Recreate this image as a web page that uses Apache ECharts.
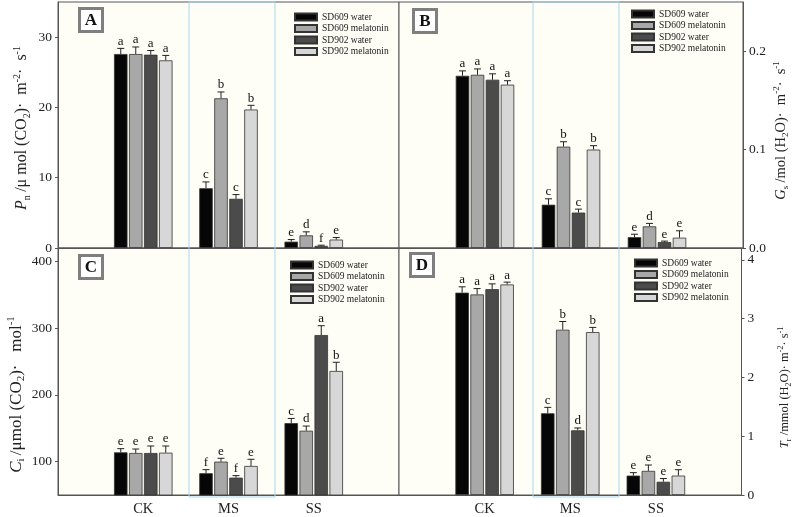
<!DOCTYPE html>
<html><head><meta charset="utf-8">
<script src="https://cdn.jsdelivr.net/npm/echarts@6/dist/echarts.min.js"></script>
<style>html,body{margin:0;padding:0;background:#fff}#c{width:794px;height:517px}</style>
</head><body><div id="c"></div>
<script>
// ---------- data ----------
const categories = ['', 'CK', 'MS', 'SS', ''];
const groups = ['CK', 'MS', 'SS'];
const seriesNames = ['SD609 water', 'SD609 melatonin', 'SD902 water', 'SD902 melatonin'];

// Pn (A)
const pnMean = [[27.6, 8.5, 0.9], [27.6, 21.3, 1.8], [27.5, 7.0, 0.3], [26.7, 19.7, 1.2]];
const pnErr = [[0.8, 0.9, 0.3], [1.0, 0.9, 0.5], [0.6, 0.6, 0.1], [0.7, 0.6, 0.3]];
const pnLetters = [['a', 'c', 'e'], ['a', 'b', 'd'], ['a', 'c', 'f'], ['a', 'b', 'e']];
const pnTicks = [0, 10, 20, 30];

// Gs (B)
const gsMean = [[0.175, 0.044, 0.011], [0.176, 0.103, 0.022], [0.171, 0.036, 0.006], [0.166, 0.100, 0.0105]];
const gsErr = [[0.005, 0.006, 0.003], [0.006, 0.005, 0.003], [0.006, 0.0035, 0.001], [0.004, 0.004, 0.007]];
const gsLetters = [['a', 'c', 'e'], ['a', 'b', 'd'], ['a', 'c', 'e'], ['a', 'b', 'e']];
const gsTicks = [0, 0.1, 0.2];

// Ci (C)
const ciMean = [[113.9, 82.6, 157.7], [112.9, 100, 146.3], [112.9, 76, 289.6], [113.4, 93.5, 235.8]];
const ciErr = [[5.5, 5.4, 7], [6, 5, 7], [10.5, 3, 14], [10, 10, 13]];
const ciLetters = [['e', 'f', 'c'], ['e', 'e', 'd'], ['e', 'f', 'a'], ['e', 'e', 'b']];
const ciTicks = [100, 200, 300, 400];

// Tr (D)
const trMean = [[3.44, 1.39, 0.33], [3.41, 2.81, 0.41], [3.50, 1.10, 0.225], [3.58, 2.77, 0.33]];
const trErr = [[0.10, 0.10, 0.05], [0.10, 0.14, 0.10], [0.09, 0.04, 0.055], [0.04, 0.08, 0.10]];
const trLetters = [['a', 'c', 'e'], ['a', 'b', 'e'], ['a', 'd', 'e'], ['a', 'b', 'e']];
const trTicks = [0, 1, 2, 3, 4];

// ---------- styles ----------
const SERIF = "'Liberation Serif','DejaVu Serif',serif";
const barColors = ['#060606', '#a8a8a8', '#4b4b4b', '#d7d7d7'];
const BAR_W = 13.5, GAP_PX = 1.5, CAP = 7;

const panels = [
  { key: 'A', mean: pnMean, err: pnErr, letters: pnLetters, ticks: pnTicks, min: 0, max: 35, pos: 'left',
    grid: { left: 58, top: 2, width: 341, height: 246 }, bottom: false,
    name: '{i|P}{sub|n} {n|/\u03bc mol (CO}{sub|2}{n|)\u00b7  m}{sup|-2}{n|\u00b7  s}{sup|-1}', nameSize: 16, nameGap: 26, namePad: [0, 6, 0, 0],
    legend: { left: 294, top: 12 }, box: [79.5, 8.5], fmt: v => String(v) },
  { key: 'B', mean: gsMean, err: gsErr, letters: gsLetters, ticks: gsTicks, min: 0, max: 0.25, pos: 'right',
    grid: { left: 399, top: 2, width: 344, height: 246 }, bottom: false,
    name: '{i|G}{sub|s} {n|/mol (H}{sub|2}{n|O)\u00b7  m}{sup|-2}{n|\u00b7  s}{sup|-1}', nameSize: 14.5, nameGap: 29, namePad: [0, 11, 0, 0],
    legend: { left: 631, top: 9 }, box: [413.5, 9.5], fmt: v => v.toFixed(1) },
  { key: 'C', mean: ciMean, err: ciErr, letters: ciLetters, ticks: ciTicks, min: 50, max: 420, pos: 'left',
    grid: { left: 58, top: 248, width: 341, height: 249 }, bottom: true,
    name: '{i|C}{sub|i} {n|/\u03bcmol (CO}{sub|2}{n|)\u00b7   mol}{sup|-1}', nameSize: 17, nameGap: 31, namePad: [0, 46, 0, 0],
    legend: { left: 290, top: 260 }, box: [79.5, 255.5], fmt: v => String(v) },
  { key: 'D', mean: trMean, err: trErr, letters: trLetters, ticks: trTicks, min: 0, max: 4.2, pos: 'right',
    grid: { left: 399, top: 248, width: 344, height: 249 }, bottom: true,
    name: '{i|T}{sub|r} {n|/mmol (H}{sub|2}{n|O)\u00b7 m}{sup|-2}{n|\u00b7 s}{sup|-1}', nameSize: 12.5, nameGap: 35, namePad: [0, 32, 0, 0],
    legend: { left: 634, top: 258 }, box: [410.5, 253.5], fmt: v => String(v) }
];

function makeRich(sz) {
  const small = Math.round(sz * 0.62);
  return {
    i: { fontFamily: SERIF, fontSize: sz, fontStyle: 'italic', color: '#222', lineHeight: sz + 4 },
    n: { fontFamily: SERIF, fontSize: sz, color: '#222', lineHeight: sz + 4 },
    sub: { fontFamily: SERIF, fontSize: small, color: '#222', verticalAlign: 'bottom', lineHeight: small + 1 },
    sup: { fontFamily: SERIF, fontSize: small, color: '#222', verticalAlign: 'top', lineHeight: small + 1 }
  };
}

const grids = [], xAxes = [], yAxes = [], series = [], legends = [], graphics = [];

panels.forEach((p, pi) => {
  grids.push(Object.assign({ show: true, borderColor: '#555', borderWidth: 1, backgroundColor: '#fefef6' }, p.grid));
  xAxes.push({
    type: 'category', gridIndex: pi, data: categories, boundaryGap: false,
    axisLine: { show: true, lineStyle: { color: '#555' } }, axisTick: { show: false },
    axisLabel: { show: p.bottom, interval: 0, margin: 7, fontFamily: SERIF, fontSize: 14.5, color: '#222' },
    splitLine: { show: false }
  });
  yAxes.push({
    type: 'value', gridIndex: pi, min: p.min, max: p.max, position: p.pos,
    axisLine: { show: true, lineStyle: { color: '#555' } },
    axisTick: { show: true, length: 3, customValues: p.ticks, lineStyle: { color: '#555' } },
    axisLabel: { customValues: p.ticks, formatter: p.fmt, margin: 6, fontFamily: SERIF, fontSize: 13.5, color: '#222' },
    splitLine: { show: false },
    name: p.name, nameLocation: 'middle', nameRotate: 90, nameGap: p.nameGap,
    nameTextStyle: { rich: makeRich(p.nameSize), padding: p.namePad }
  });
  seriesNames.forEach((sn, s) => {
    series.push({
      type: 'bar', name: sn, xAxisIndex: pi, yAxisIndex: pi,
      barWidth: BAR_W, barGap: (GAP_PX / BAR_W * 100).toFixed(1) + '%',
      itemStyle: { color: barColors[s], borderColor: '#333', borderWidth: 0.8 },
      data: groups.map((g, ci) => [g, p.mean[s][ci]]),
      z: 2
    });
  });
  const errData = [];
  seriesNames.forEach((sn, s) => groups.forEach((g, ci) => {
    errData.push([g, p.mean[s][ci] + p.err[s][ci], p.mean[s][ci], s, ci]);
  }));
  const letters = p.letters;
  series.push({
    type: 'custom', name: 'err' + p.key, xAxisIndex: pi, yAxisIndex: pi, z: 3,
    encode: { x: 0, y: 1 }, data: errData,
    renderItem: function (params, api) {
      const cat = api.value(0), s = api.value(3), ci = api.value(4);
      const top = api.coord([cat, api.value(1)]);
      const base = api.coord([cat, api.value(2)]);
      const x = top[0] + (s - 1.5) * (BAR_W + GAP_PX);
      return {
        type: 'group', children: [
          { type: 'line', shape: { x1: x, y1: base[1], x2: x, y2: top[1] }, style: { stroke: '#222', lineWidth: 1 } },
          { type: 'line', shape: { x1: x - CAP / 2, y1: top[1], x2: x + CAP / 2, y2: top[1] }, style: { stroke: '#222', lineWidth: 1 } },
          { type: 'text', x: x, y: top[1] - 0.5, style: { text: letters[s][ci], fill: '#111', font: '13px ' + SERIF, textAlign: 'center', textVerticalAlign: 'bottom' } }
        ]
      };
    }
  });
  legends.push({
    data: seriesNames, orient: 'vertical', left: p.legend.left, top: p.legend.top,
    itemWidth: 22, itemHeight: 7, itemGap: 1.5, padding: 0, icon: 'rect',
    textStyle: { fontFamily: SERIF, fontSize: 9.5, color: '#222', lineHeight: 8 }
  });
  graphics.push({
    type: 'group', children: [
      { type: 'rect', shape: { x: p.box[0], y: p.box[1], width: 23, height: 23 }, style: { fill: '#fff', stroke: '#7f7f7f', lineWidth: 3 }, z: 5 },
      { type: 'text', x: p.box[0] + 11.5, y: p.box[1] + 12, style: { text: p.key, font: 'bold 17px ' + SERIF, fill: '#111', textAlign: 'center', textVerticalAlign: 'middle' }, z: 6 }
    ]
  });
});

// light blue frames around the MS group
graphics.push({ type: 'rect', shape: { x: 189, y: 2, width: 86, height: 495 }, style: { fill: 'none', stroke: '#a6d9ee', lineWidth: 1 }, z: 1 });
graphics.push({ type: 'rect', shape: { x: 533, y: 2, width: 86, height: 495 }, style: { fill: 'none', stroke: '#a6d9ee', lineWidth: 1 }, z: 1 });

const chart = echarts.init(document.getElementById('c'), null, { renderer: 'canvas' });
chart.setOption({
  animation: false,
  backgroundColor: '#ffffff',
  grid: grids, xAxis: xAxes, yAxis: yAxes, series: series, legend: legends,
  graphic: graphics
});
</script></body></html>
